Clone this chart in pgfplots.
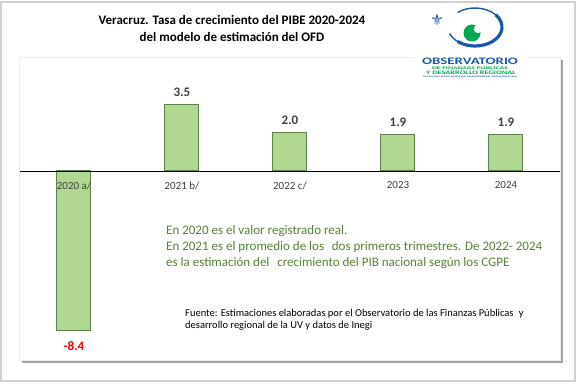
\documentclass[border=0pt]{standalone}
\usepackage{fontspec}
\setmainfont{Carlito}
\newfontfamily\dejavu{DejaVu Sans}
\usepackage{graphicx}
\usepackage{pgfplots}
\pgfplotsset{compat=1.18}
\usetikzlibrary{shadows}
\definecolor{barfill}{RGB}{176,216,145}
\definecolor{bardraw}{RGB}{96,128,74}
\definecolor{txtgreen}{RGB}{84,130,53}
\definecolor{lblgray}{RGB}{64,64,64}
\definecolor{obsblue}{RGB}{28,88,168}
\definecolor{obsgreen}{RGB}{0,168,80}
\begin{document}
\begin{tikzpicture}[x=1pt,y=1pt]
\useasboundingbox (0,0) rectangle (581,383);
% outer border
\draw[color=black!18, line width=1.5pt] (1,2) rectangle (575,381);
% inner frame with shadow
\path[fill=white, draw=black!8, line width=0.6pt, drop shadow={shadow xshift=3pt, shadow yshift=-3pt, opacity=0.35, fill=black}] (19,23) rectangle (560,326);
% title
\node[font=\bfseries\fontsize{13}{17}\selectfont, align=center, text=black] at (232,354.5) {Veracruz. Tasa de crecimiento del PIBE 2020-2024\\del modelo de estimación del OFD};

\begin{axis}[
  at={(20pt,23pt)}, anchor=south west, scale only axis,
  width=540pt, height=303pt,
  xmin=-0.5, xmax=4.5, ymin=-9.95, ymax=6,
  hide axis,
  /pgf/number format/assume math mode=true,
  bar width=34pt,
  clip=false,
]
\addplot[ybar, bar shift=0pt, fill=barfill, draw=bardraw, line width=1pt,
  nodes near coords={\pgfmathprintnumber[fixed,fixed zerofill,precision=1]{\pgfplotspointmeta}},
  nodes near coords style={font=\bfseries\fontsize{13}{15}\selectfont, text=lblgray, yshift=4.5pt}]
  coordinates {(1,3.5) (2,2.0) (3,1.9) (4,1.9)};
\addplot[ybar, bar shift=0pt, fill=barfill, draw=bardraw, line width=1pt,
  nodes near coords={\pgfmathprintnumber[fixed,fixed zerofill,precision=1]{\pgfplotspointmeta}},
  nodes near coords style={font=\bfseries\fontsize{13}{15}\selectfont, text=red, yshift=-7.5pt}]
  coordinates {(0,-8.4)};
% zero line
\addplot[black, line width=0.9pt, mark=none, forget plot] coordinates {(-0.5,0) (4.5,0)};
% category labels
\addplot[draw=none, mark=none, point meta=explicit symbolic,
  nodes near coords, nodes near coords align={below},
  nodes near coords style={font=\fontsize{11}{13}\selectfont, text=lblgray, yshift=-7pt}]
  coordinates {(0,0) [2020 a/] (1,0) [2021 b/] (2,0) [2022 c/] (3,0) [2023] (4,0) [2024]};
\end{axis}

% logo
\fill[white] (415,302) rectangle (527,331);
\draw[obsblue, line width=1.4pt] (475,356) ++(130:27 and 19) arc[start angle=130, end angle=-160, x radius=27, y radius=19];
\draw[obsblue, line width=3.2pt] (475,356) ++(40:27 and 19) arc[start angle=40, end angle=-130, x radius=27, y radius=19];
\fill[obsgreen] (472,350) circle[radius=8.5];
\fill[white] (478,354) circle[radius=4.2];
\node[text=obsblue, font=\dejavu\fontsize{15}{15}\selectfont] at (437,363) {⚜};
\node[text=obsblue, inner sep=0] at (470,322) {\resizebox{96pt}{6.5pt}{\bfseries OBSERVATORIO}};
\node[text=obsgreen, inner sep=0] at (470,315.5) {\resizebox{76pt}{3.4pt}{\bfseries DE FINANZAS PÚBLICAS}};
\node[text=obsgreen, inner sep=0] at (471,310.5) {\resizebox{90pt}{3.4pt}{\bfseries Y DESARROLLO REGIONAL}};
\node[text=obsblue, inner sep=0] at (470,306) {\resizebox{94pt}{1.6pt}{\bfseries FACULTAD DE ECONOMÍA UNIVERSIDAD VERACRUZANA}};

% annotation
\node[anchor=west, inner sep=0, text=txtgreen, font=\fontsize{13}{16}\selectfont, align=left] at (166,136) {En 2020 es el valor registrado real.\\En 2021 es el promedio de los\hspace{0.6em}dos primeros trimestres. De 2022- 2024\\es la estimación del\hspace{0.6em}crecimiento del PIB nacional según los CGPE};
\node[anchor=west, inner sep=0, text=black, font=\fontsize{10.5}{12}\selectfont, align=left] at (185,63) {Fuente: Estimaciones elaboradas por el Observatorio de las Finanzas Públicas\hspace{0.5em}y\\desarrollo regional de la UV y datos de Inegi};
\end{tikzpicture}
\end{document}
